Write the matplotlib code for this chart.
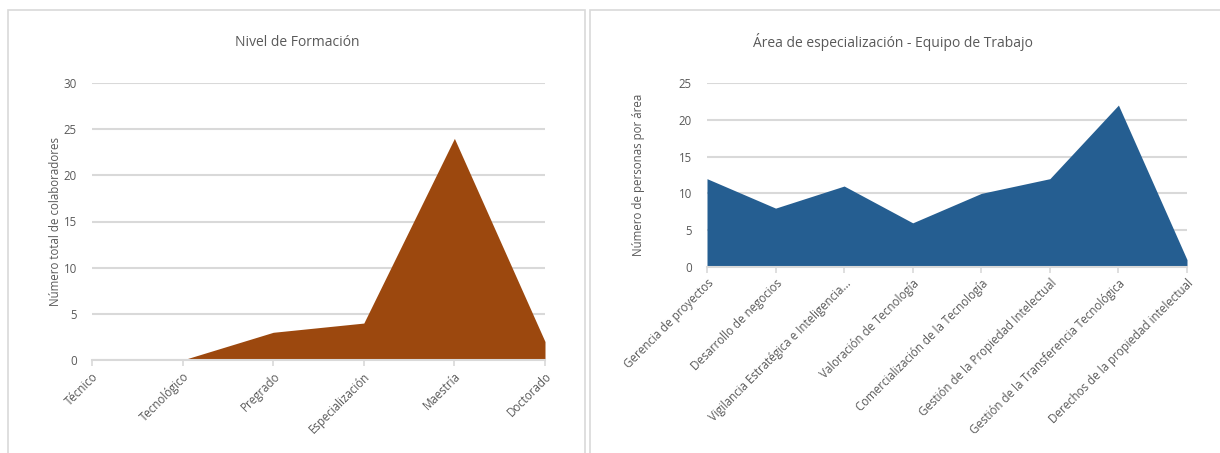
import matplotlib.pyplot as plt
from matplotlib.patches import Rectangle

plt.rcParams['font.family'] = ['Open Sans', 'DejaVu Sans']

# Datos
niveles = ['Técnico', 'Tecnológico', 'Pregrado', 'Especialización', 'Maestría', 'Doctorado']
colaboradores = [0, 0, 3, 4, 24, 2]

areas = ['Gerencia de proyectos', 'Desarrollo de negocios',
         'Vigilancia Estratégica e Inteligencia...', 'Valoración de Tecnología',
         'Comercialización de la Tecnología', 'Gestión de la Propiedad Intelectual',
         'Gestión de la Transferencia Tecnológica', 'Derechos de la propiedad intelectual']
personas = [12, 8, 11, 6, 10, 12, 22, 1]

texto = '#595959'
rejilla = '#d9d9d9'

fig = plt.figure(figsize=(12.2, 4.53), dpi=100)

# marcos de cada grafico
for x0, w in [(8, 577), (590, 640)]:
    fig.patches.append(Rectangle((x0 / 1220, -0.1), w / 1220, 1.1 - 10 / 453,
                                 transform=fig.transFigure, fill=False,
                                 edgecolor='#d9d9d9', linewidth=1.2))


def area_chart(pos, cats, vals, color, ymax, ylabel, ypad, title, title_x):
    ax = fig.add_axes(pos)
    x = list(range(len(cats)))
    ax.fill_between(x, vals, 0, color=color, linewidth=0, zorder=3)
    ax.set_xlim(0, len(cats) - 1)
    ax.set_ylim(0, ymax)
    ax.set_yticks(range(0, ymax + 1, 5))
    ax.yaxis.grid(True, color=rejilla, linewidth=1.5, zorder=0)
    ax.set_axisbelow(True)
    for s in ['top', 'right', 'left']:
        ax.spines[s].set_visible(False)
    ax.spines['bottom'].set_color(rejilla)
    ax.spines['bottom'].set_linewidth(1.5)
    ax.spines['bottom'].set_zorder(4)
    ax.set_xticks(x)
    ax.set_xticklabels(cats, rotation=45, ha='right', rotation_mode='anchor')
    ax.tick_params(axis='x', colors=rejilla, labelcolor=texto, length=4,
                   width=1.2, labelsize=8.3, pad=3)
    ax.tick_params(axis='y', length=0, labelcolor=texto, labelsize=8.3, pad=11)
    ax.set_ylabel(ylabel, color=texto, fontsize=8.3, labelpad=ypad)
    fig.text(title_x / 1220, 1 - 42 / 453, title, ha='center', va='center',
             color=texto, fontsize=10)
    return ax


area_chart([92 / 1220, 1 - 360 / 453, 453 / 1220, 277 / 453],
           niveles, colaboradores, '#9c480e', 30,
           'Número total de colaboradores', 1, 'Nivel de Formación', 297)

area_chart([707 / 1220, 1 - 267 / 453, 480 / 1220, 184 / 453],
           areas, personas, '#255e91', 25,
           'Número de personas por área', 24,
           'Área de especialización - Equipo de Trabajo', 893)

plt.savefig('out.png', dpi=100)
